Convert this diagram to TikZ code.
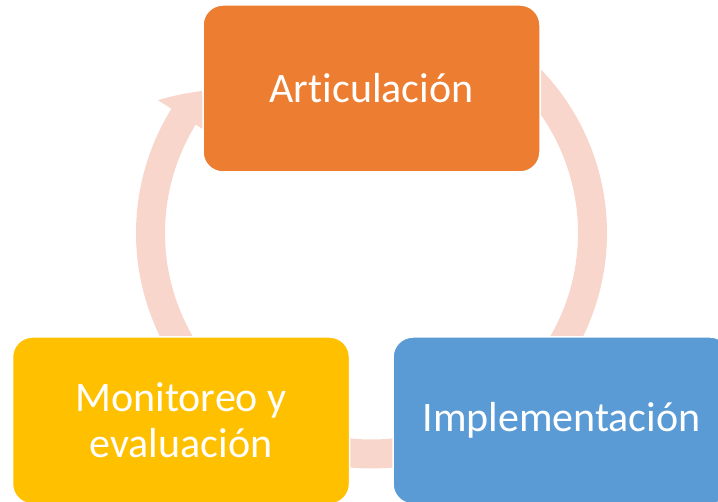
\documentclass[tikz,border=0pt]{standalone}
\usepackage{fontspec}
\setmainfont{Carlito}[Ligatures=CommonOff]
\usetikzlibrary{
	arrows.meta,
	bending,
	positioning,
	calc,
	backgrounds
}
\definecolor{artorange}{HTML}{ED7D31}
\definecolor{impblue}{HTML}{5B9BD5}
\definecolor{monyellow}{HTML}{FFC000}
\definecolor{cyclepink}{HTML}{F8D6CC}

\begin{document}
\begin{tikzpicture}[
		x=1pt, y=1pt,
		phase/.style={draw=white, line width=1.5pt, rounded corners=20pt, align=center, text=white,
			minimum width=337pt, minimum height=167pt, inner sep=0pt, font=\fontsize{42}{46}\selectfont},
		cyc/.style={draw=cyclepink, line width=29pt, -{Triangle[width=60pt, length=32pt, bend]}}
		]
		\useasboundingbox (0,0) rectangle (718,502);
		
		% Nodes
		\coordinate (c) at (371.5,269);
		\node[phase, fill=artorange] (artic) at (371.5,413.5) {Articulación};
		\node[phase, fill=impblue] (impl) at (561.5,81.5) {Implementación};
		\node[phase, fill=monyellow] (monit) at (181,81.5) {Monitoreo y\\evaluación};
		
		% Arrows
		\begin{scope}[on background layer]
			\draw[cyc] ([shift={(45:221)}]c) arc[start angle=45, end angle=-48, radius=221];
			\draw[cyc] ([shift={(-72:221)}]c) arc[start angle=-72, end angle=-108, radius=221];
			\draw[cyc] ([shift={(212:221)}]c) arc[start angle=212, end angle=140, radius=221];
		\end{scope}
		
	\end{tikzpicture}
\end{document}
